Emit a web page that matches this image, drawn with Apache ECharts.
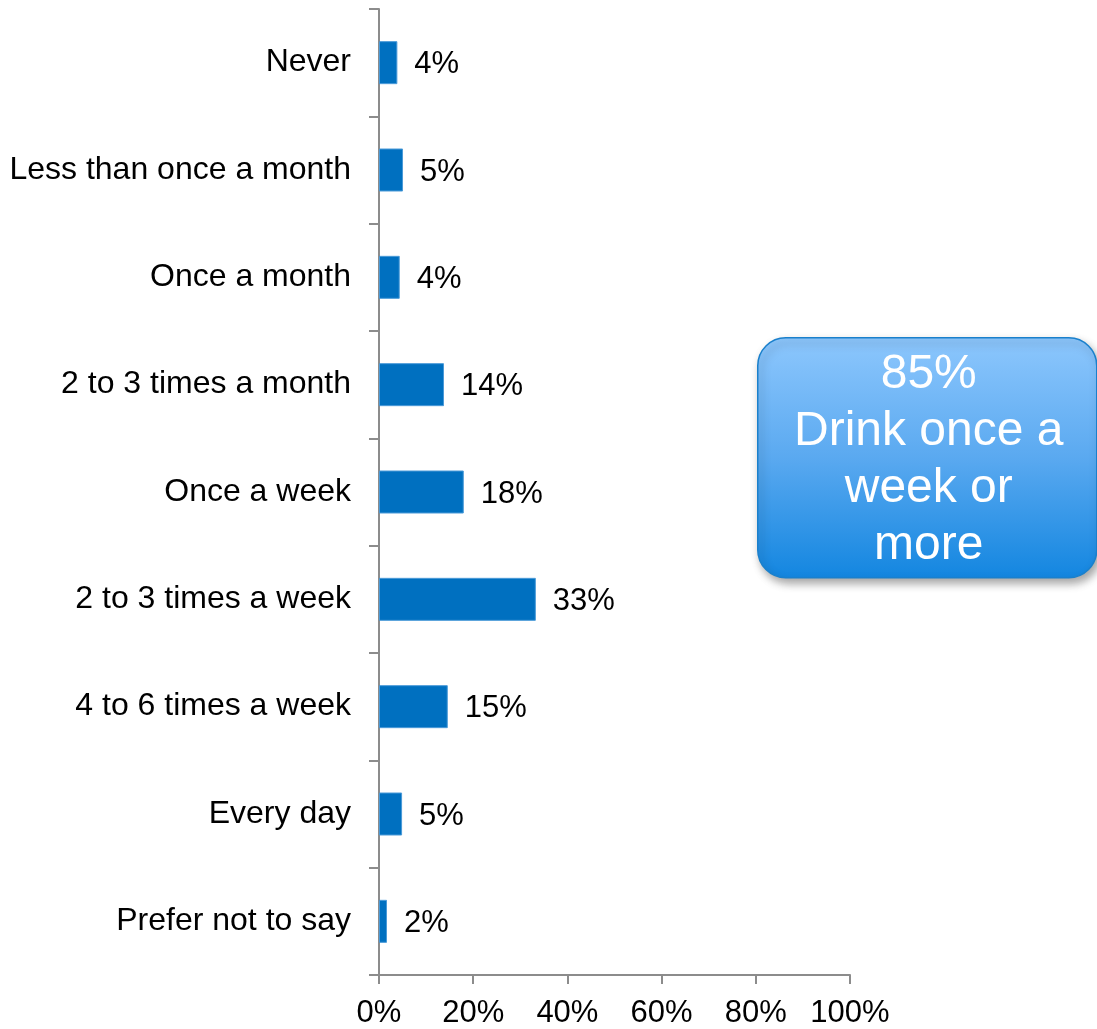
<!DOCTYPE html>
<html>
<head>
<meta charset="utf-8">
<script src="https://cdn.jsdelivr.net/npm/echarts@6/dist/echarts.min.js"></script>
<style>
html,body{margin:0;padding:0;background:#fff;}
#chart{width:1097px;height:1029px;}
</style>
</head>
<body>
<div id="chart"></div>
<script>
const categories = ["Never", "Less than once a month", "Once a month", "2 to 3 times a month", "Once a week", "2 to 3 times a week", "4 to 6 times a week", "Every day", "Prefer not to say"];
const values = [3.9, 5.1, 4.4, 13.8, 18.0, 33.3, 14.6, 4.9, 1.7];
const xTicks = [0, 20, 40, 60, 80, 100];
const calloutLines = ["85%", "Drink once a", "week or", "more"];

const FONT = "'Liberation Sans', Arial, sans-serif";
const chart = echarts.init(document.getElementById('chart'));
chart.setOption({
  animation: false,
  backgroundColor: '#ffffff',
  grid: { left: 379, top: 9, right: 247, bottom: 53 },
  xAxis: {
    type: 'value',
    min: xTicks[0],
    max: xTicks[xTicks.length - 1],
    interval: xTicks[1] - xTicks[0],
    axisLine: { show: true, lineStyle: { color: '#8c8c8c', width: 2 } },
    axisTick: { show: true, length: 9, lineStyle: { color: '#8c8c8c', width: 2 } },
    splitLine: { show: false },
    axisLabel: { formatter: '{value}%', color: '#000', fontSize: 31, fontFamily: FONT, margin: 23 }
  },
  yAxis: {
    type: 'category',
    data: categories,
    inverse: true,
    axisLine: { show: true, lineStyle: { color: '#8c8c8c', width: 2 } },
    axisTick: { show: true, length: 10, alignWithLabel: false, lineStyle: { color: '#8c8c8c', width: 2 } },
    axisLabel: { color: '#000', fontSize: 32, fontFamily: FONT, margin: 28 }
  },
  series: [{
    type: 'bar',
    data: values,
    barWidth: 43,
    itemStyle: { color: '#0070c0', borderColor: '#4a9ad8', borderWidth: 1 },
    label: {
      show: true,
      position: 'right',
      distance: 17,
      color: '#000',
      fontSize: 31,
      fontFamily: FONT,
      offset: [0, 2],
      formatter: p => Math.round(p.value) + '%'
    }
  }],
  graphic: [{
    type: 'group',
    left: 757,
    top: 337,
    children: [{
      type: 'rect',
      shape: { x: 0, y: 0, width: 339, height: 240, r: 28 },
      style: {
        fill: new echarts.graphic.LinearGradient(0, 0, 0, 1, [
          { offset: 0, color: '#8dc7fd' },
          { offset: 0.5, color: '#5aa9f0' },
          { offset: 1, color: '#1386e0' }
        ]),
        stroke: '#1a80cc',
        lineWidth: 1.5,
        shadowBlur: 8,
        shadowOffsetX: 3,
        shadowOffsetY: 5,
        shadowColor: 'rgba(0,0,0,0.35)'
      }
    }, {
      type: 'text',
      x: 171,
      y: 123,
      style: {
        text: calloutLines.join('\n'),
        fill: '#ffffff',
        font: "48px 'Liberation Sans', Arial, sans-serif",
        lineHeight: 57,
        align: 'center',
        verticalAlign: 'middle'
      }
    }]
  }]
});
</script>
</body>
</html>
